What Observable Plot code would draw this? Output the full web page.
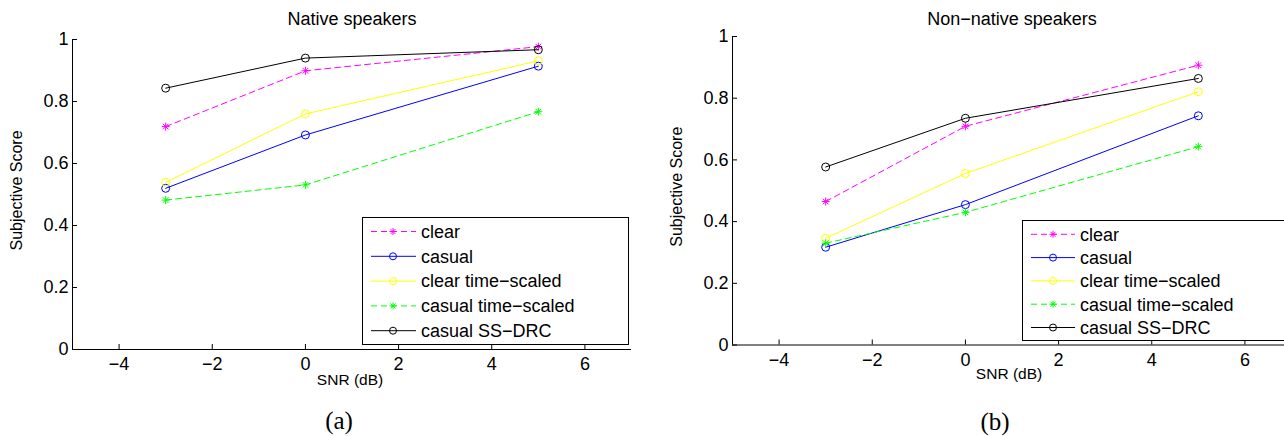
<!DOCTYPE html>
<html>
<head>
<meta charset="utf-8">
<script src="https://cdn.jsdelivr.net/npm/d3@7"></script>
<script src="https://cdn.jsdelivr.net/npm/@observablehq/plot@0.6"></script>
<style>
  html, body { margin: 0; padding: 0; background: #fff; }
  #root { position: relative; width: 1284px; height: 436px; overflow: hidden; background: #fff;
          font-family: "Liberation Sans", Arial, sans-serif; }
  .panel { position: absolute; top: 0; }
  .panel svg { max-width: none; }
  .legend { position: absolute; }
</style>
</head>
<body>
<div id="root"></div>
<script>
// ---------------- data ----------------
const snrLevels = [-3, 0, 5];

const seriesNames   = ["clear", "casual", "clear time\u2212scaled", "casual time\u2212scaled", "casual SS\u2212DRC"];
const seriesColors  = ["#ff00ff", "#0000ff", "#ffff00", "#00ff00", "#000000"];
const seriesDashed  = [true, false, false, true, false];
const seriesMarkers = ["asterisk", "circle", "circle", "asterisk", "circle"];

// Native speakers (panel a)
const nativeClear      = [0.719, 0.899, 0.977];
const nativeCasual     = [0.520, 0.692, 0.914];
const nativeClearTS    = [0.539, 0.760, 0.931];
const nativeCasualTS   = [0.482, 0.531, 0.767];
const nativeCasualSSDRC = [0.843, 0.940, 0.967];

// Non-native speakers (panel b)
const nonNativeClear      = [0.465, 0.709, 0.907];
const nonNativeCasual     = [0.317, 0.455, 0.743];
const nonNativeClearTS    = [0.346, 0.556, 0.821];
const nonNativeCasualTS   = [0.330, 0.430, 0.643];
const nonNativeCasualSSDRC = [0.577, 0.735, 0.864];

const xTicks = [-4, -2, 0, 2, 4, 6];
const xTickLabels = ["\u22124", "\u22122", "0", "2", "4", "6"];
const yTicks = [0, 0.2, 0.4, 0.6, 0.8, 1];
const yTickLabels = ["0", "0.2", "0.4", "0.6", "0.8", "1"];

const xDomain = [-5, 7];
const yDomain = [0, 1];

// ---------------- helpers ----------------
const asteriskSymbol = {
  draw(ctx, size) {
    const r = Math.sqrt(size / Math.PI);
    const d = r * Math.SQRT1_2;
    ctx.moveTo(-r, 0); ctx.lineTo(r, 0);
    ctx.moveTo(0, -r); ctx.lineTo(0, r);
    ctx.moveTo(-d, -d); ctx.lineTo(d, d);
    ctx.moveTo(-d, d); ctx.lineTo(d, -d);
  }
};
const symbolFor = m => m === "asterisk" ? asteriskSymbol : "circle";

function buildRows(seriesScores) {
  return seriesScores.map((vals, s) => snrLevels.map((snr, i) => ({snr, score: vals[i], series: s})));
}

function makePanel(cfg) {
  const rowsBySeries = buildRows(cfg.scores);
  const marks = [];
  rowsBySeries.forEach((rows, s) => {
    marks.push(Plot.line(rows, {
      x: "snr", y: "score", stroke: seriesColors[s], strokeWidth: 1,
      strokeDasharray: seriesDashed[s] ? "6,4" : null
    }));
    marks.push(Plot.dot(rows, {
      x: "snr", y: "score", r: 4, stroke: seriesColors[s], fill: "none", strokeWidth: 1,
      symbol: symbolFor(seriesMarkers[s])
    }));
  });
  return Plot.plot({
    width: cfg.width, height: 436,
    marginLeft: cfg.marginLeft, marginRight: cfg.marginRight,
    marginTop: cfg.marginTop, marginBottom: cfg.marginBottom,
    style: {fontFamily: "'Liberation Sans', Arial, sans-serif", fontSize: "18px", background: "transparent", color: "#000"},
    x: {domain: xDomain},
    y: {domain: yDomain},
    marks: [
      Plot.ruleY([0], {stroke: "#000", strokeWidth: 1}),
      Plot.ruleX([xDomain[0]], {stroke: "#000", strokeWidth: 1}),
      Plot.axisX(xTicks, {anchor: "bottom", tickSize: -5, tickPadding: 13, fontSize: 18,
        tickFormat: d => xTickLabels[xTicks.indexOf(d)], label: null}),
      Plot.axisY(yTicks, {anchor: "left", tickSize: -5, tickPadding: 9, fontSize: 18,
        tickFormat: d => yTickLabels[yTicks.indexOf(d)], label: null}),
      ...marks,
      Plot.text([cfg.title], {text: d => d, frameAnchor: "top", lineAnchor: "middle", textAnchor: "middle",
        dy: cfg.titleDy, fontSize: 18}),
      Plot.text(["SNR (dB)"], {text: d => d, frameAnchor: "bottom", lineAnchor: "middle", textAnchor: "middle",
        dx: cfg.xLabelDx, dy: cfg.xLabelDy, fontSize: 15.5}),
      Plot.text(["Subjective Score"], {text: d => d, frameAnchor: "left", lineAnchor: "middle", textAnchor: "middle",
        rotate: -90, dx: -56, dy: -4, fontSize: 16}),
      Plot.text([cfg.caption], {text: d => d, frameAnchor: "bottom", lineAnchor: "middle", textAnchor: "middle",
        dx: cfg.captionDx, dy: cfg.captionDy,
        fontFamily: "'Liberation Serif', 'Times New Roman', serif", fontSize: 25})
    ]
  });
}

function makeLegend(cfg) {
  const svg = d3.create("svg")
    .attr("width", cfg.width).attr("height", cfg.height)
    .style("display", "block");
  svg.append("rect").attr("x", 0.5).attr("y", 0.5)
    .attr("width", cfg.width - 1).attr("height", cfg.height - 1)
    .attr("fill", "#fff").attr("stroke", "#000").attr("stroke-width", 1);
  seriesNames.forEach((name, s) => {
    const y = cfg.rowStart + s * cfg.rowStep;
    svg.append("line").attr("x1", cfg.lineX1).attr("x2", cfg.lineX2).attr("y1", y).attr("y2", y)
      .attr("stroke", seriesColors[s]).attr("stroke-width", 1)
      .attr("stroke-dasharray", seriesDashed[s] ? "6,4" : null);
    const sym = symbolFor(seriesMarkers[s]);
    const path = d3.symbol(sym === "circle" ? d3.symbolCircle : sym, Math.PI * 3.5 * 3.5)();
    svg.append("path").attr("d", path).attr("transform", `translate(${cfg.markerX},${y})`)
      .attr("fill", "none").attr("stroke", seriesColors[s]).attr("stroke-width", 1);
    svg.append("text").attr("x", cfg.textX).attr("y", y).attr("dy", "0.35em")
      .attr("font-family", "'Liberation Sans', Arial, sans-serif").attr("font-size", 18)
      .attr("fill", "#000").text(name);
  });
  return svg.node();
}

// ---------------- layout ----------------
const root = document.getElementById("root");

const leftDiv = document.createElement("div");
leftDiv.className = "panel"; leftDiv.style.left = "0px"; leftDiv.style.width = "642px";
leftDiv.appendChild(makePanel({
  scores: [nativeClear, nativeCasual, nativeClearTS, nativeCasualTS, nativeCasualSSDRC],
  title: "Native speakers", caption: "(a)",
  width: 642, marginLeft: 72, marginRight: 11, marginTop: 39, marginBottom: 87,
  titleDy: -20, xLabelDx: -2, xLabelDy: 31, captionDx: -13, captionDy: 71
}));
root.appendChild(leftDiv);

const rightDiv = document.createElement("div");
rightDiv.className = "panel"; rightDiv.style.left = "642px"; rightDiv.style.width = "660px";
rightDiv.appendChild(makePanel({
  scores: [nonNativeClear, nonNativeCasual, nonNativeClearTS, nonNativeCasualTS, nonNativeCasualSSDRC],
  title: "Non\u2212native speakers", caption: "(b)",
  width: 660, marginLeft: 90, marginRight: 11, marginTop: 36, marginBottom: 91.5,
  titleDy: -17, xLabelDx: -3, xLabelDy: 29.5, captionDx: -17, captionDy: 76.5
}));
root.appendChild(rightDiv);

const legA = document.createElement("div");
legA.className = "legend"; legA.style.left = "362px"; legA.style.top = "217px";
legA.appendChild(makeLegend({width: 267, height: 128, rowStart: 14.5, rowStep: 24.8,
  lineX1: 9, lineX2: 54, markerX: 31, textX: 59}));
root.appendChild(legA);

const legB = document.createElement("div");
legB.className = "legend"; legB.style.left = "1022px"; legB.style.top = "220px";
legB.appendChild(makeLegend({width: 270, height: 121, rowStart: 14.3, rowStep: 23.3,
  lineX1: 9, lineX2: 53, markerX: 31, textX: 58}));
root.appendChild(legB);
</script>
</body>
</html>
